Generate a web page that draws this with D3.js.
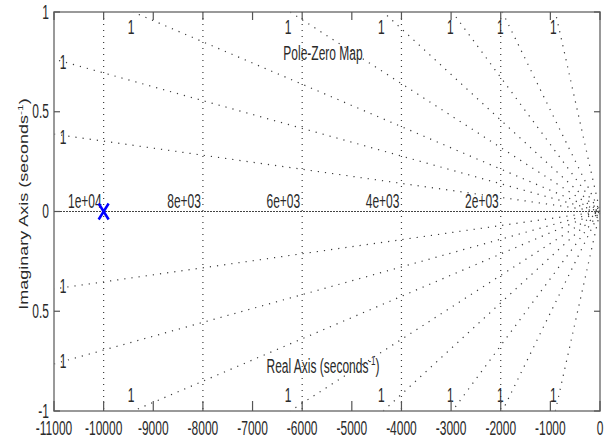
<!DOCTYPE html>
<html><head><meta charset="utf-8">
<script src="https://cdn.jsdelivr.net/npm/d3@7"></script>
<style>body{margin:0;background:#fff}svg{display:block}</style>
</head><body>
<script>
// ---- data ----
const xTicks = [-11000,-10000,-9000,-8000,-7000,-6000,-5000,-4000,-3000,-2000,-1000,0];
const yTicks = [1,0.5,0,-0.5,-1];
const yTickLabels = ["1","0.5","0","0.5","-1"];
const poles = [[-10000,0]];
const wnValues = [10000,8000,6000,4000,2000];
const wnLabels = ["1e+04","8e+03","6e+03","4e+03","2e+03"];
// damping lines (upper half) meeting the left edge: imaginary value at x=-11000
const zetaLeftY = [0.388,0.764];
// damping lines (upper half) meeting the top edge: real value at y=1
const zetaTopX = [-9407,-6242,-4367,-2976,-1968,-900];
const zetaLabel = "1";

// ---- layout ----
const W=610,H=439;
const L=54,R=600,T=12,B=411;
const SY=1.7;
const x=d3.scaleLinear().domain([-11000,0]).range([L,R]);
const y=d3.scaleLinear().domain([-1,1]).range([B,T]);
const svg=d3.select("body").append("svg").attr("width",W).attr("height",H)
  .style("font-family","'Liberation Sans',Arial,sans-serif");

function stext(g,px,py,txt,anchor,sy){
  return g.append("text").attr("transform",`translate(${px},${py}) scale(1,${sy||SY})`)
    .attr("text-anchor",anchor||"middle").attr("font-size",12).attr("fill","#2a2a2a").text(txt);
}

const grid=svg.append("g");
const gcol="#3a3a3a";
// zero line
grid.append("line").attr("x1",x(-11000)).attr("x2",x(0)).attr("y1",y(0)).attr("y2",y(0))
  .attr("stroke","#444").attr("stroke-width",1).attr("stroke-dasharray","2,1");
// wn "circles" (vertical at this aspect)
wnValues.forEach((w,i)=>{
  grid.append("line").attr("x1",x(-w)).attr("x2",x(-w)).attr("y1",y(1)).attr("y2",y(-1))
    .attr("stroke",gcol).attr("stroke-width",1.2).attr("stroke-dasharray","1,5");
  stext(grid,x(-w)-2,y(0)-4,wnLabels[i],"end");
});
// damping lines
const ends=[];
zetaLeftY.forEach(v=>{ends.push({ex:-11000,ey:v,edge:"side"});ends.push({ex:-11000,ey:-v,edge:"side"});});
zetaTopX.forEach(v=>{ends.push({ex:v,ey:1,edge:"top"});ends.push({ex:v,ey:-1,edge:"bottom"});});
ends.forEach((e,i)=>{
  grid.append("line").attr("x1",x(e.ex)).attr("y1",y(e.ey)).attr("x2",x(0)).attr("y2",y(0))
    .attr("stroke",gcol).attr("stroke-width",1.2).attr("stroke-dasharray","1.2,6")
    .attr("stroke-dashoffset",i%3);
  if(e.edge==="side"){
    const cy=y(e.ey)+(e.ey>0?3:-3);
    stext(grid,L+9,cy+7.3,zetaLabel,"middle");
  } else if(e.edge==="top"){
    stext(grid,x(e.ex)-2,T+22,zetaLabel,"middle");
  } else {
    stext(grid,x(e.ex)-2,B-9,zetaLabel,"middle");
  }
});

// axes box
const ax=svg.append("g");
ax.append("rect").attr("x",L).attr("y",T).attr("width",R-L).attr("height",B-T)
  .attr("fill","none").attr("stroke","#808080").attr("stroke-width",1.6);
xTicks.forEach(v=>{
  ax.append("line").attr("x1",x(v)).attr("x2",x(v)).attr("y1",B).attr("y2",B-10).attr("stroke","#555").attr("stroke-width",1.2);
  ax.append("line").attr("x1",x(v)).attr("x2",x(v)).attr("y1",T).attr("y2",T+8).attr("stroke","#555").attr("stroke-width",1.2);
  stext(ax,x(v),B+24,String(v),"middle");
});
yTicks.forEach((v,i)=>{
  ax.append("line").attr("x1",L).attr("x2",L+6).attr("y1",y(v)).attr("y2",y(v)).attr("stroke","#555").attr("stroke-width",1.2);
  ax.append("line").attr("x1",R).attr("x2",R-6).attr("y1",y(v)).attr("y2",y(v)).attr("stroke","#555").attr("stroke-width",1.2);
  stext(ax,L-5,y(v)+6.5,yTickLabels[i],"end");
});

// title & labels
stext(svg,(L+R)/2-4,60,"Pole-Zero Map","middle");
const xl=stext(svg,(L+R)/2-4,373,"","middle");
xl.append("tspan").text("Real Axis (seconds");
xl.append("tspan").attr("font-size",8).attr("dy",-5).text("-1");
xl.append("tspan").attr("dy",5).text(")");
const yl=svg.append("text").attr("transform",`translate(28,204) scale(1,1.5) rotate(-90)`)
  .attr("text-anchor","middle").attr("font-size",12).attr("fill","#2a2a2a");
yl.append("tspan").text("Imaginary Axis (seconds");
yl.append("tspan").attr("font-size",8).attr("dy",-5).text("-1");
yl.append("tspan").attr("dy",5).text(")");

// poles
const pg=svg.append("g");
poles.forEach(p=>{
  const cx=x(p[0]),cy=y(p[1]);
  pg.append("path").attr("d",`M${cx-5},${cy-8}L${cx+5},${cy+8}M${cx-5},${cy+8}L${cx+5},${cy-8}`)
    .attr("stroke","#0000ff").attr("stroke-width",2.5).attr("fill","none");
});
</script>
</body></html>
